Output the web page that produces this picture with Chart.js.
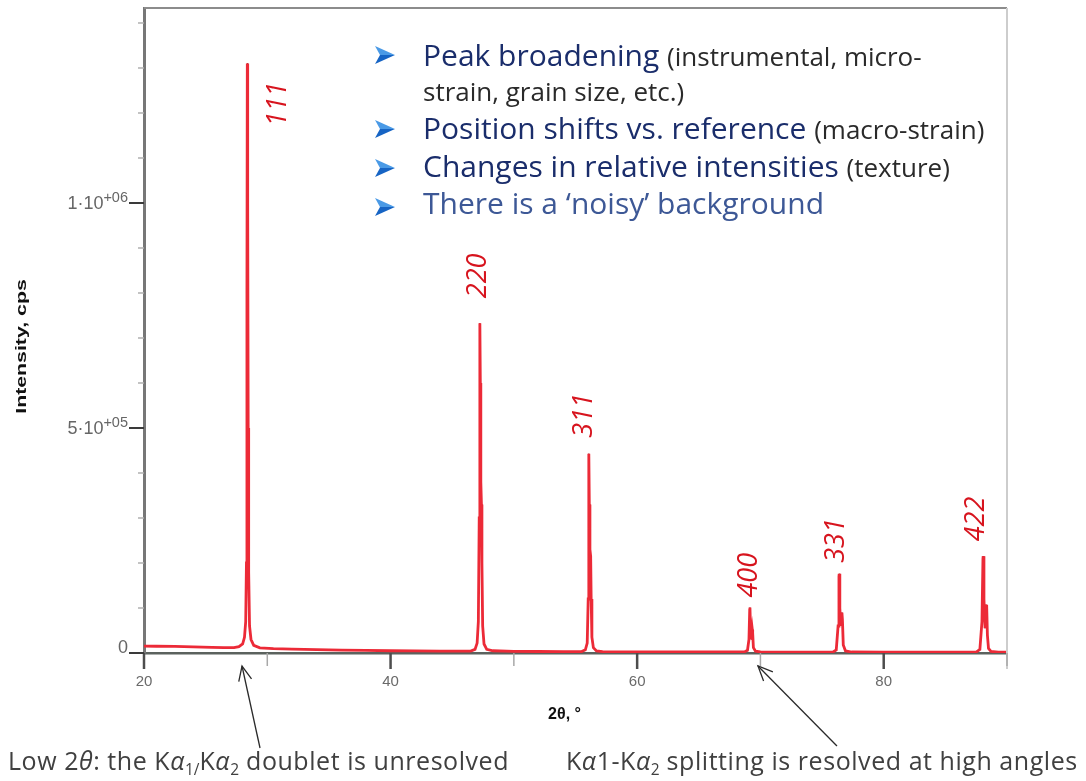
<!DOCTYPE html>
<html><head><meta charset="utf-8">
<script src="https://cdn.jsdelivr.net/npm/chart.js@4.4.1/dist/chart.umd.min.js"></script>
<style>
html,body{margin:0;padding:0;background:#fff;}
#wrap{position:relative;width:1086px;height:781px;overflow:hidden;background:#fff;}
#c{position:absolute;left:0;top:0;}
.ln{position:absolute;left:423px;font-family:'Open Sans',sans-serif;font-size:30px;line-height:40px;white-space:nowrap;color:#1a2d6b;}
.ln .p{font-size:26px;color:#2a2a2a;}
.ln.light{color:#3d5896;}
.bul{position:absolute;left:375px;width:20px;height:18px;}
.cap{position:absolute;top:745px;font-family:'Open Sans',sans-serif;font-size:25px;line-height:30px;letter-spacing:0.55px;color:#404040;white-space:nowrap;}
.cap sub{font-size:0.62em;vertical-align:baseline;position:relative;top:0.32em;line-height:0;letter-spacing:0;}
</style></head><body>
<div id="wrap">
<canvas id="c" width="1086" height="781"></canvas>
<svg class="bul" style="top:46px" viewBox="0 0 20 18"><polygon points="0,0 20,9 5,9" fill="#4a9ae6"/><polygon points="5,9 20,9 0,18" fill="#1664c4"/></svg>
<div class="ln" style="top:35px">Peak broadening <span class="p">(instrumental, micro-</span></div>
<div class="ln" style="top:70px"><span class="p">strain, grain size, etc.)</span></div>
<svg class="bul" style="top:120px" viewBox="0 0 20 18"><polygon points="0,0 20,9 5,9" fill="#4a9ae6"/><polygon points="5,9 20,9 0,18" fill="#1664c4"/></svg>
<div class="ln" style="top:108.4px">Position shifts vs. reference <span class="p">(macro-strain)</span></div>
<svg class="bul" style="top:159px" viewBox="0 0 20 18"><polygon points="0,0 20,9 5,9" fill="#4a9ae6"/><polygon points="5,9 20,9 0,18" fill="#1664c4"/></svg>
<div class="ln" style="top:146.4px">Changes in relative intensities <span class="p">(texture)</span></div>
<svg class="bul" style="top:198px" viewBox="0 0 20 18"><polygon points="0,0 20,9 5,9" fill="#4a9ae6"/><polygon points="5,9 20,9 0,18" fill="#1664c4"/></svg>
<div class="ln light" style="top:183.4px">There is a ‘noisy’ background</div>
<div class="cap" style="left:8px">Low 2<i>θ</i>: the K<i>α</i><sub>1/</sub>K<i>α</i><sub>2</sub> doublet is unresolved</div>
<div class="cap" style="left:566px">K<i>α</i>1-K<i>α</i><sub>2</sub> splitting is resolved at high angles</div>
</div>
<script>
// ---- data ----
const twoTheta = [
  20.0, 21.0, 22.5, 24.0, 25.5, 26.5, 27.3, 27.7, 28.0, 28.15, 28.25, 28.31, 28.35, 28.38, 28.41, 28.45, 28.49, 28.56, 28.68, 28.9, 29.4,
  30.5, 32.0, 34.0, 36.0, 38.0, 40.0, 42.0, 44.0, 46.0,
  46.5, 46.85, 47.02, 47.12, 47.19, 47.235, 47.25, 47.28, 47.32, 47.37, 47.41, 47.47, 47.58, 47.8, 48.3,
  50.0, 52.0, 54.0,
  55.5, 55.8, 55.95, 56.03, 56.07, 56.09, 56.12, 56.17, 56.23, 56.27, 56.33, 56.45, 56.7, 57.2,
  60.0, 63.0, 66.0,
  68.7, 68.95, 69.07, 69.13, 69.15, 69.19, 69.27, 69.34, 69.37, 69.43, 69.6, 70.0,
  72.0, 74.0,
  75.9, 76.15, 76.3, 76.37, 76.39, 76.44, 76.52, 76.61, 76.65, 76.72, 76.9, 77.4,
  80.0, 83.0, 86.0,
  87.5, 87.8, 87.97, 88.05, 88.07, 88.13, 88.22, 88.33, 88.35, 88.41, 88.5, 88.7, 89.3, 90.0
];
const intensity = [
  15500, 15000, 14500, 13500, 12500, 11800, 12000, 14000, 20000, 35000, 70000, 200000, 800000, 1310000, 1000000, 500000, 180000, 60000, 30000, 17000, 11500,
  9500, 8500, 7500, 6500, 5800, 5000, 4500, 4200, 4100,
  4200, 8000, 22000, 70000, 300000, 700000, 733000, 600000, 380000, 330000, 200000, 60000, 20000, 8000, 5000,
  3800, 3300, 3000,
  3300, 7000, 22000, 120000, 400000, 443000, 330000, 230000, 215000, 120000, 35000, 12000, 4500, 3000,
  2500, 2300, 2200,
  2400, 6000, 30000, 95000, 101000, 60000, 30000, 52000, 45000, 12000, 4000, 2300,
  2100, 2000,
  2300, 7000, 60000, 170000, 176000, 100000, 60000, 90000, 75000, 18000, 4500, 2200,
  1900, 1800, 1800,
  2100, 8000, 70000, 210000, 215000, 120000, 55000, 105000, 107000, 40000, 10000, 3500, 2000, 1800
];
const peakLabels = ['111', '220', '311', '400', '331', '422'];
const peakTwoTheta = [28.38, 47.25, 56.09, 69.15, 76.39, 88.07];
const peakIntensity = [1310000, 733000, 443000, 101000, 176000, 215000];
const xTickPositions = [20, 30, 40, 50, 60, 70, 80, 90];
const xTickValues = [20, 40, 60, 80];
const xTickText = ['20', '40', '60', '80'];
const yTickPositions = [0, 100000, 200000, 300000, 400000, 500000, 600000, 700000, 800000, 900000, 1000000, 1100000, 1200000, 1300000, 1400000];
const yTickValues = [0, 500000, 1000000];
const yTickBase = ['0', '5·10', '1·10'];
const yTickExp = ['', '+05', '+06'];
const arrowTargets = [27.95, 69.8];

// ---- styles ----
const labelOffsets = [[31, 63], [-2, -25], [-5, -16], [-1, -10], [-3, -11], [-7, -15]];
const yLabelDy = [-7, 0, 0];
const arrowTails = [[18, 82], [79, 80]];
const tickFont = {family: "'Liberation Sans', 'DejaVu Sans', sans-serif", size: 15, lineHeight: 1};

const points = twoTheta.map((t, i) => ({x: t, y: intensity[i]}));

function arrow(ctx, x1, y1, x2, y2) {
  const ang = Math.atan2(y2 - y1, x2 - x1), L = 16, spread = 0.42;
  ctx.beginPath(); ctx.moveTo(x1, y1); ctx.lineTo(x2, y2); ctx.stroke();
  ctx.beginPath();
  ctx.moveTo(x1 + L * Math.cos(ang - spread), y1 + L * Math.sin(ang - spread));
  ctx.lineTo(x1, y1);
  ctx.lineTo(x1 + L * Math.cos(ang + spread), y1 + L * Math.sin(ang + spread));
  ctx.stroke();
}

const deco = {
  id: 'deco',
  afterDatasetsDraw(chart) {
    const {ctx, scales: {x, y}} = chart;
    ctx.save();
    ctx.fillStyle = '#d7141e';
    ctx.font = "italic 27px 'Open Sans', sans-serif";
    ctx.textAlign = 'left';
    ctx.textBaseline = 'middle';
    peakLabels.forEach((lab, i) => {
      const px = x.getPixelForValue(peakTwoTheta[i]) + labelOffsets[i][0];
      const py = y.getPixelForValue(peakIntensity[i]) + labelOffsets[i][1];
      ctx.save(); ctx.translate(px, py); ctx.rotate(-Math.PI / 2);
      ctx.fillText(lab, 0, 0); ctx.restore();
    });
    ctx.restore();
  },
  afterDraw(chart) {
    const {ctx, chartArea: a, scales: {x, y}} = chart;
    ctx.save();
    // frame
    ctx.strokeStyle = '#8c8c8c'; ctx.lineWidth = 2;
    ctx.beginPath(); ctx.moveTo(a.left, a.top); ctx.lineTo(a.right, a.top); ctx.stroke();
    ctx.strokeStyle = '#cdcdcd'; ctx.lineWidth = 2;
    ctx.beginPath(); ctx.moveTo(a.right, a.top); ctx.lineTo(a.right, a.bottom + 16); ctx.stroke();
    // x ticks
    x.ticks.forEach(t => {
      const px = x.getPixelForValue(t.value);
      const major = xTickValues.includes(t.value);
      ctx.strokeStyle = major ? '#4d4d4d' : '#a8a8a8'; ctx.lineWidth = major ? 2.5 : 1.5;
      ctx.beginPath(); ctx.moveTo(px, a.bottom); ctx.lineTo(px, a.bottom + (major ? 16 : 13)); ctx.stroke();
    });
    // y ticks and labels (with superscript exponents)
    y.ticks.forEach(t => {
      const py = y.getPixelForValue(t.value);
      const k = yTickValues.indexOf(t.value);
      const major = k >= 0;
      ctx.strokeStyle = major ? '#3a3a3a' : '#b0b0b0'; ctx.lineWidth = major ? 2 : 1.5;
      ctx.beginPath(); ctx.moveTo(a.left, py); ctx.lineTo(a.left - (major ? 15 : 6), py); ctx.stroke();
      if (major) {
        const right = a.left - 16, base = py + 6.5 + yLabelDy[k];
        ctx.fillStyle = '#666';
        ctx.textAlign = 'right'; ctx.textBaseline = 'alphabetic';
        ctx.font = "14.5px 'Liberation Sans', Arial, sans-serif";
        const ew = yTickExp[k] ? ctx.measureText(yTickExp[k]).width : 0;
        if (yTickExp[k]) ctx.fillText(yTickExp[k], right, base - 7);
        ctx.font = "18px 'Liberation Sans', Arial, sans-serif";
        ctx.fillText(yTickBase[k], right - ew, base);
      }
    });
    // axis titles
    ctx.fillStyle = '#111';
    ctx.font = "bold 15px 'Liberation Sans', Arial, sans-serif";
    ctx.textAlign = 'center'; ctx.textBaseline = 'middle';
    ctx.save();
    ctx.translate(22, (a.top + a.bottom) / 2 + 16);
    ctx.rotate(-Math.PI / 2);
    ctx.scale(1.42, 1);
    ctx.fillText('Intensity, cps', 0, 0);
    ctx.restore();
    ctx.font = "bold 16px 'Liberation Sans', Arial, sans-serif";
    ctx.fillText('2θ, °', (a.left + a.right) / 2 - 11, a.bottom + 62);
    // annotation arrows
    ctx.strokeStyle = '#2a2a2a'; ctx.lineWidth = 1.3;
    arrowTargets.forEach((v, i) => {
      const tx = x.getPixelForValue(v), ty = a.bottom + 13;
      arrow(ctx, tx, ty, tx + arrowTails[i][0], ty + arrowTails[i][1]);
    });
    ctx.restore();
  }
};

new Chart(document.getElementById('c'), {
  type: 'line',
  data: {
    datasets: [
      {data: points, borderColor: '#ec2a37', borderWidth: 2.8, pointRadius: 0, tension: 0, fill: false},
      {data: points, borderColor: '#8e1a24', borderWidth: 0.9, pointRadius: 0, tension: 0, fill: false}
    ]
  },
  options: {
    responsive: false,
    animation: false,
    devicePixelRatio: 1,
    layout: {padding: {top: 8, right: 79, left: 0, bottom: 0}},
    plugins: {legend: {display: false}, tooltip: {enabled: false}},
    scales: {
      x: {
        type: 'linear', min: 20, max: 90,
        afterBuildTicks: s => { s.ticks = xTickPositions.map(v => ({value: v})); },
        afterFit: s => { s.height = 128; s.paddingLeft = 0; s.paddingRight = 0; s.paddingTop = 0; s.paddingBottom = 0; },
        grid: {drawOnChartArea: false, drawTicks: false},
        border: {display: true, color: '#5b625e', width: 2.5},
        ticks: {
          autoSkip: false, maxRotation: 0, padding: 21,
          color: '#6a6a6a', font: tickFont,
          callback: v => { const i = xTickValues.indexOf(v); return i >= 0 ? xTickText[i] : ''; }
        }
      },
      y: {
        type: 'linear', min: 0, max: 1433300,
        afterBuildTicks: s => { s.ticks = yTickPositions.map(v => ({value: v})); },
        afterFit: s => { s.width = 144; s.paddingLeft = 0; s.paddingRight = 0; s.paddingTop = 0; s.paddingBottom = 0; },
        grid: {drawOnChartArea: false, drawTicks: false},
        border: {display: true, color: '#777777', width: 3},
        ticks: {display: false, autoSkip: false}
      }
    }
  },
  plugins: [deco]
});
</script>
</body></html>
